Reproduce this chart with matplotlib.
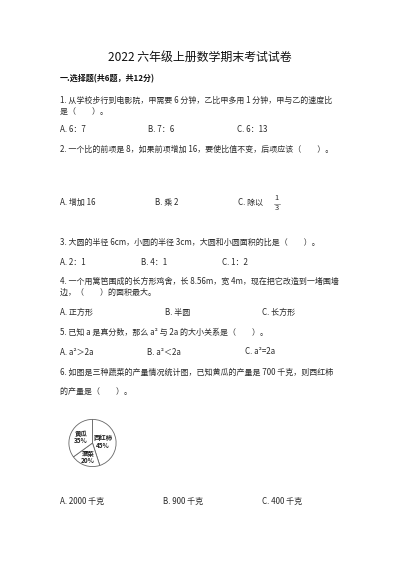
import matplotlib.pyplot as plt
import numpy as np

plt.rcParams['font.family'] = ['Noto Sans CJK SC', 'DejaVu Sans']

W, H = 400, 566

title = "2022 六年级上册数学期末考试试卷"
section = "一.选择题(共6题，共12分)"

# question lines: (text, y)
question_lines = [
    ("1. 从学校步行到电影院，甲需要 6 分钟，乙比甲多用 1 分钟，甲与乙的速度比", 100),
    ("是（　　）。", 111),
    ("2. 一个比的前项是 8，如果前项增加 16，要使比值不变，后项应该（　　）。", 149),
    ("3. 大圆的半径 6cm，小圆的半径 3cm，大圆和小圆面积的比是（　　）。", 242),
    ("4. 一个用篱笆围成的长方形鸡舍，长 8.56m，宽 4m，现在把它改造到一堵围墙", 281),
    ("边，（　　）的面积最大。", 292),
    ("5. 已知 a 是真分数，那么 a² 与 2a 的大小关系是（　　）。", 332),
    ("6. 如图是三种蔬菜的产量情况统计图，已知黄瓜的产量是 700 千克，则西红柿", 372),
    ("的产量是（　　）。", 391),
]

# option rows: (y, [(x, text), ...])
option_rows = [
    (129, [(60, "A. 6：7"), (148, "B. 7：6"), (237, "C. 6：13")]),
    (202, [(60, "A. 增加 16"), (155, "B. 乘 2"), (238, "C. 除以")]),
    (262, [(60, "A. 2：1"), (141, "B. 4：1"), (222, "C. 1：2")]),
    (312, [(60, "A. 正方形"), (165, "B. 半圆"), (262, "C. 长方形")]),
    (352, [(60, "A. a²＞2a"), (147, "B. a²＜2a"), (245, "C. a²=2a")]),
    (501, [(60, "A. 2000 千克"), (163, "B. 900 千克"), (262, "C. 400 千克")]),
]

# pie data
veg_names = ["西红柿", "菠菜", "黄瓜"]
veg_share = [45, 20, 35]
label_dist = [0.45, 0.62, 0.55]

txt_color = "#2a2a2a"

fig = plt.figure(figsize=(W / 100, H / 100), dpi=100)
ax = fig.add_axes([0, 0, 1, 1])
ax.set_xlim(0, W)
ax.set_ylim(H, 0)
ax.axis("off")

ax.text(200, 57, title, ha="center", va="center", fontsize=8.6, color="#111")
ax.text(60, 79, section, ha="left", va="center", fontsize=5.8,
        fontweight="bold", color="#111")

for s, y in question_lines:
    ax.text(60, y, s, ha="left", va="center", fontsize=5.75, color=txt_color)

for y, opts in option_rows:
    for x, s in opts:
        ax.text(x, y, s, ha="left", va="center", fontsize=5.75, color=txt_color)

# fraction 1/3 after "C. 除以"
ax.text(276.5, 198.5, "1", ha="center", va="center", fontsize=5.4, color=txt_color)
ax.plot([273.5, 279.5], [203.5, 203.5], color="#777", lw=0.5)
ax.text(276.5, 208.5, "3", ha="center", va="center", fontsize=5.4, color=txt_color)

# pie chart
cx, cy, r = 92.5, 443, 29.5
pax = fig.add_axes([(cx - r) / W, 1 - (cy + r) / H, 2 * r / W, 2 * r / H])
wedges, _ = pax.pie(veg_share, startangle=90, counterclock=False,
                    colors=["white"] * 3,
                    wedgeprops=dict(edgecolor="#666", linewidth=0.6))
pax.set_aspect("auto")
for w, name, pct, d in zip(wedges, veg_names, veg_share, label_dist):
    ang = np.deg2rad((w.theta1 + w.theta2) / 2)
    pax.text(d * np.cos(ang), d * np.sin(ang), f"{name}\n{pct}%",
             ha="center", va="center", fontsize=4.6, color="#222",
             fontweight="bold", linespacing=1.1)

fig.savefig("out.png", dpi=100, facecolor="white")
